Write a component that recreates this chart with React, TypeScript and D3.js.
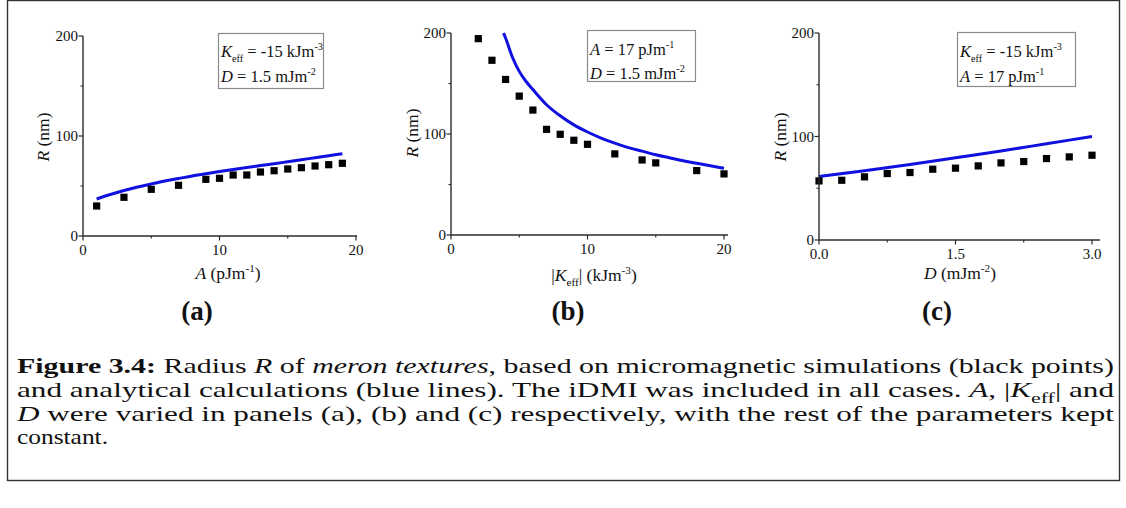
import React from "react";
import * as d3 from "d3";

// ---------- data ----------
// Panel (a): R vs A
const aSimX = [1, 3, 5, 7, 9, 10, 11, 12, 13, 14, 15, 16, 17, 18, 19];
const aSimY = [30, 38.7, 46.7, 50.7, 56.7, 57.7, 61, 61, 64, 65.3, 67, 68.3, 70, 71.3, 72.7];
const aLineX = [1, 2, 3, 4, 5, 6, 7, 8, 9, 10, 11, 12, 13, 14, 15, 16, 17, 18, 19];
const aLineY = [37, 41.5, 45.5, 49, 52, 55, 57.5, 60, 62.2, 64.4, 66.5, 68.5, 70.4, 72.3, 74.3, 76.3, 78.3, 80.3, 82.3];

// Panel (b): R vs |Keff|
const bSimX = [2, 3, 4, 5, 6, 7, 8, 9, 10, 12, 14, 15, 18, 20];
const bSimY = [194.4, 173, 154, 137.5, 123.7, 104.6, 99.7, 93.8, 89.8, 80.3, 74.3, 71.4, 63.8, 60.5];
const bLineX = [3.85, 4, 4.5, 5, 5.5, 6, 7, 8, 9, 10, 11, 12, 13, 14, 15, 16, 17, 18, 19, 20];
const bLineY = [200, 195, 176, 162, 152, 144, 129, 118, 109, 102, 96, 91, 86.5, 83, 79.5, 76.5, 73.5, 71, 68.5, 66];

// Panel (c): R vs D
const cSimX = [0, 0.25, 0.5, 0.75, 1, 1.25, 1.5, 1.75, 2, 2.25, 2.5, 2.75, 3];
const cSimY = [57.1, 57.7, 61, 64.2, 65.2, 68.4, 69.4, 71.6, 74.5, 75.8, 78.7, 80.3, 81.9];
const cLineX = [0, 0.5, 1, 1.5, 2, 2.5, 3];
const cLineY = [61.3, 67, 73, 79.5, 86, 93, 100];

// ticks
const yMajorTicks = [0, 100, 200];
const yMinorTicks = [50, 150];
const abMajorTicks = [0, 10, 20];
const abMinorTicks = [5, 15];
const cMajorTicks = [0, 1.5, 3];
const cMinorTicks = [0.75, 2.25];

const SERIF = "'Liberation Serif', 'Times New Roman', serif";
const BLUE = "#1010e0";
const AXIS = "#2a2a2a";

type Seg = { t: string; i?: boolean; b?: boolean; sub?: boolean; sup?: boolean };

function Rich({ segs, small = 0.68 }: { segs: Seg[]; small?: number }) {
  const out: React.ReactNode[] = [];
  let shift = 0;
  segs.forEach((s, k) => {
    let target = 0;
    if (s.sub) target = 0.28;
    if (s.sup) target = -0.42;
    const dy = target - shift;
    shift = target;
    out.push(
      <tspan
        key={k}
        dy={dy !== 0 ? `${dy * (s.sub || s.sup ? 1 / small : 1)}em` : undefined}
        fontStyle={s.i ? "italic" : undefined}
        fontWeight={s.b ? "bold" : undefined}
        fontSize={s.sub || s.sup ? `${small}em` : undefined}
      >
        {s.t}
      </tspan>
    );
  });
  return <>{out}</>;
}

type PanelCfg = {
  px: [number, number];
  py: [number, number];
  xDomain: [number, number];
  xMajor: number[];
  xMinor: number[];
  xFmt: (v: number) => string;
  xExtend: number;
  simX: number[];
  simY: number[];
  lineX: number[];
  lineY: number[];
  legend: { box: [number, number, number, number]; lines: Seg[][]; bases: number[]; fs: number };
  xLabel: Seg[];
  xLabelPos: [number, number];
  yLabelPos: [number, number];
  tag: string;
  tagPos: [number, number];
};

function Panel({ c }: { c: PanelCfg }) {
  const x = d3.scaleLinear().domain(c.xDomain).range(c.px);
  const y = d3.scaleLinear().domain([0, 200]).range(c.py);
  const line = d3
    .line<number>()
    .x((_, i) => x(c.lineX[i]))
    .y((d) => y(d))
    .curve(d3.curveMonotoneX);
  const x0 = c.px[0];
  const yb = c.py[0];
  const [bx, by, bw, bh] = c.legend.box;
  return (
    <g fontFamily={SERIF}>
      <path d={line(c.lineY) || ""} fill="none" stroke={BLUE} strokeWidth={3} />
      {c.simX.map((v, i) => (
        <rect key={i} x={x(v) - 3.6} y={y(c.simY[i]) - 3.6} width={7.2} height={7.2} fill="#000" />
      ))}
      <line x1={x0} x2={x0} y1={y(200)} y2={yb} stroke={AXIS} strokeWidth={1.4} />
      <line x1={x0} x2={c.px[1] + c.xExtend} y1={yb} y2={yb} stroke={AXIS} strokeWidth={1.4} />
      {yMajorTicks.map((t) => (
        <g key={"ym" + t}>
          <line x1={x0 - 4.5} x2={x0} y1={y(t)} y2={y(t)} stroke={AXIS} strokeWidth={1.2} />
          <text x={x0 - 5} y={y(t) + 5} fontSize={15} textAnchor="end" fill="#111">
            {t}
          </text>
        </g>
      ))}
      {yMinorTicks.map((t) => (
        <line key={"yn" + t} x1={x0 - 2.5} x2={x0} y1={y(t)} y2={y(t)} stroke={AXIS} strokeWidth={1.1} />
      ))}
      {c.xMajor.map((t) => (
        <g key={"xm" + t}>
          <line x1={x(t)} x2={x(t)} y1={yb} y2={yb + 4.5} stroke={AXIS} strokeWidth={1.2} />
          <text x={x(t)} y={yb + 18.5} fontSize={15} textAnchor="middle" fill="#111">
            {c.xFmt(t)}
          </text>
        </g>
      ))}
      {c.xMinor.map((t) => (
        <line key={"xn" + t} x1={x(t)} x2={x(t)} y1={yb} y2={yb + 2.5} stroke={AXIS} strokeWidth={1.1} />
      ))}
      <text x={c.xLabelPos[0]} y={c.xLabelPos[1]} fontSize={17.5} textAnchor="middle" fill="#111">
        <Rich segs={c.xLabel} small={0.64} />
      </text>
      <text
        transform={`translate(${c.yLabelPos[0]},${c.yLabelPos[1]}) rotate(-90)`}
        fontSize={17.5}
        textAnchor="middle"
        fill="#111"
      >
        <tspan fontStyle="italic">R</tspan>
        <tspan> (nm)</tspan>
      </text>
      <rect x={bx + 0.5} y={by + 0.5} width={bw} height={bh} fill="#fff" stroke="#8a8a8a" strokeWidth={1.2} />
      {c.legend.lines.map((l, i) => (
        <text key={i} x={bx + 3} y={c.legend.bases[i]} fontSize={c.legend.fs} fill="#111">
          <Rich segs={l} small={0.62} />
        </text>
      ))}
      <text x={c.tagPos[0]} y={c.tagPos[1]} fontSize={27} fontWeight="bold" textAnchor="middle" fill="#111">
        {c.tag}
      </text>
    </g>
  );
}

const fmtInt = (v: number) => d3.format("d")(v);
const fmt1 = (v: number) => d3.format(".1f")(v);

const panels: PanelCfg[] = [
  {
    px: [83, 356],
    py: [236, 36],
    xDomain: [0, 20],
    xMajor: abMajorTicks,
    xMinor: abMinorTicks,
    xFmt: fmtInt,
    xExtend: 1,
    simX: aSimX,
    simY: aSimY,
    lineX: aLineX,
    lineY: aLineY,
    legend: {
      box: [218, 33, 105, 55],
      bases: [57, 82],
      fs: 16.5,
      lines: [
        [{ t: "K", i: true }, { t: "eff", sub: true }, { t: " = -15 kJm" }, { t: "-3", sup: true }],
        [{ t: "D", i: true }, { t: " = 1.5 mJm" }, { t: "-2", sup: true }],
      ],
    },
    xLabel: [{ t: "A", i: true }, { t: " (pJm" }, { t: "-1", sup: true }, { t: ")" }],
    xLabelPos: [228, 279],
    yLabelPos: [49, 137],
    tag: "(a)",
    tagPos: [197, 320],
  },
  {
    px: [451, 724],
    py: [235, 33],
    xDomain: [0, 20],
    xMajor: abMajorTicks,
    xMinor: abMinorTicks,
    xFmt: fmtInt,
    xExtend: 4,
    simX: bSimX,
    simY: bSimY,
    lineX: bLineX,
    lineY: bLineY,
    legend: {
      box: [587, 30, 108, 51],
      bases: [55, 79],
      fs: 16.5,
      lines: [
        [{ t: "A", i: true }, { t: " = 17 pJm" }, { t: "-1", sup: true }],
        [{ t: "D", i: true }, { t: " = 1.5 mJm" }, { t: "-2", sup: true }],
      ],
    },
    xLabel: [
      { t: "|" },
      { t: "K", i: true },
      { t: "eff", sub: true },
      { t: "| (kJm" },
      { t: "-3", sup: true },
      { t: ")" },
    ],
    xLabelPos: [594, 281],
    yLabelPos: [418, 133],
    tag: "(b)",
    tagPos: [568, 320],
  },
  {
    px: [819, 1092],
    py: [240, 33],
    xDomain: [0, 3],
    xMajor: cMajorTicks,
    xMinor: cMinorTicks,
    xFmt: fmt1,
    xExtend: 8,
    simX: cSimX,
    simY: cSimY,
    lineX: cLineX,
    lineY: cLineY,
    legend: {
      box: [957, 32, 118, 54],
      bases: [57, 82],
      fs: 16.5,
      lines: [
        [{ t: "K", i: true }, { t: "eff", sub: true }, { t: " = -15 kJm" }, { t: "-3", sup: true }],
        [{ t: "A", i: true }, { t: " = 17 pJm" }, { t: "-1", sup: true }],
      ],
    },
    xLabel: [{ t: "D", i: true }, { t: " (mJm" }, { t: "-2", sup: true }, { t: ")" }],
    xLabelPos: [960, 279],
    yLabelPos: [786, 137],
    tag: "(c)",
    tagPos: [937, 320],
  },
];

const captionLines: Seg[][] = [
  [
    { t: "Figure 3.4:", b: true },
    { t: " Radius " },
    { t: "R", i: true },
    { t: " of " },
    { t: "meron textures", i: true },
    { t: ", based on micromagnetic simulations (black points)" },
  ],
  [
    { t: "and analytical calculations (blue lines). The iDMI was included in all cases. " },
    { t: "A", i: true },
    { t: ", |" },
    { t: "K", i: true },
    { t: "eff", sub: true },
    { t: "| and" },
  ],
  [
    { t: "D", i: true },
    { t: " were varied in panels (a), (b) and (c) respectively, with the rest of the parameters kept" },
  ],
  [{ t: "constant." }],
];
const captionWidths = [1097, 1097, 1097, 91];

export default function App() {
  const W = 1126;
  const H = 508;
  const capBases = [373, 397, 420.5, 444];
  return (
    <svg
      width={W}
      height={H}
      viewBox={`0 0 ${W} ${H}`}
      style={{ position: "absolute", left: 0, top: 0, background: "#fff" }}
    >
      <rect x={0} y={0} width={W} height={H} fill="#fff" />
      <rect x={7.5} y={0.5} width={1112} height={480} fill="none" stroke="#333" strokeWidth={1.4} />
      {panels.map((p, i) => (
        <Panel key={i} c={p} />
      ))}
      {captionLines.map((l, i) => (
        <text
          key={i}
          x={17}
          y={capBases[i]}
          fontSize={21.5}
          fontFamily={SERIF}
          fill="#111"
          textLength={captionWidths[i]}
          lengthAdjust="spacingAndGlyphs"
        >
          <Rich segs={l} small={0.7} />
        </text>
      ))}
    </svg>
  );
}
